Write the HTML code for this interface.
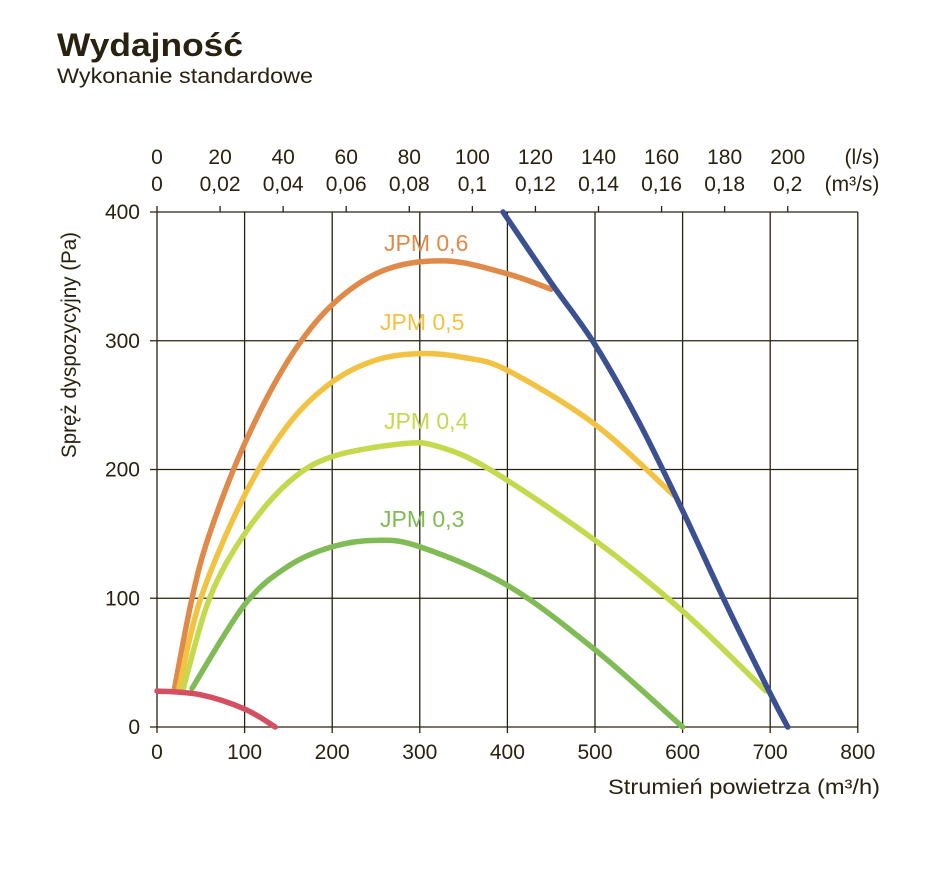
<!DOCTYPE html>
<html><head><meta charset="utf-8"><style>
body{margin:0;background:#fff;}
svg text{font-family:"Liberation Sans",sans-serif;fill:#2a2210;}
</style></head><body>
<svg id="s" width="928" height="866" xmlns="http://www.w3.org/2000/svg">
<text x="57" y="56" font-size="32" font-weight="bold" textLength="186" lengthAdjust="spacingAndGlyphs">Wydajność</text>
<text x="57" y="83" font-size="21" textLength="256" lengthAdjust="spacingAndGlyphs">Wykonanie standardowe</text>
<g id="grid" stroke="#2a2210" stroke-width="1.3"></g>
<g id="lbl" font-size="21"></g>
<text x="880" y="794" font-size="21" text-anchor="end" textLength="272" lengthAdjust="spacingAndGlyphs">Strumień powietrza (m³/h)</text>
<text transform="translate(76,345) rotate(-90)" font-size="21" text-anchor="middle" textLength="226" lengthAdjust="spacingAndGlyphs">Spręż dyspozycyjny (Pa)</text>
<g id="curves" fill="none" stroke-width="5.5" stroke-linecap="round"></g>
<text x="384" y="251" font-size="23" style="fill:#e08a4a">JPM 0,6</text>
<text x="380" y="330" font-size="23" style="fill:#f2c242">JPM 0,5</text>
<text x="384" y="429" font-size="23" style="fill:#c4d94e">JPM 0,4</text>
<text x="380" y="527" font-size="23" style="fill:#80bb55">JPM 0,3</text>
</svg>
<script>
var X=v=>157+v*0.876, Y=p=>727-p*1.2875;
var g=document.getElementById('grid'),l=document.getElementById('lbl'),c=document.getElementById('curves');
var ns='http://www.w3.org/2000/svg';
function ln(x1,y1,x2,y2){var e=document.createElementNS(ns,'line');e.setAttribute('x1',x1);e.setAttribute('y1',y1);e.setAttribute('x2',x2);e.setAttribute('y2',y2);g.appendChild(e);}
function tx(x,y,s,a){var e=document.createElementNS(ns,'text');e.setAttribute('x',x);e.setAttribute('y',y);e.setAttribute('text-anchor',a||'middle');e.textContent=s;l.appendChild(e);}
for(var v=0;v<=800;v+=100){ln(X(v),212,X(v),733);tx(X(v),759,String(v));}
for(var p=0;p<=400;p+=100){ln(150,Y(p),X(800),Y(p));tx(140,Y(p)+7,String(p),'end');}
for(var i=0;i<=10;i++){var x=X(i*72);ln(x,212,x,206);tx(x,164,String(i*20));tx(x,191,i==0?'0':(i*0.02).toFixed(2).replace(/0$/,'').replace('.',','));}
tx(862,164,'(l/s)');tx(852,191,'(m³/s)');
function curve(pts,col){var P=pts.map(q=>[X(q[0]),Y(q[1])]);var d='M'+P[0];for(var i=0;i<P.length-1;i++){var p0=P[i-1]||P[i],p1=P[i],p2=P[i+1],p3=P[i+2]||p2;d+='C'+(p1[0]+(p2[0]-p0[0])/6)+','+(p1[1]+(p2[1]-p0[1])/6)+' '+(p2[0]-(p3[0]-p1[0])/6)+','+(p2[1]-(p3[1]-p1[1])/6)+' '+p2;}var e=document.createElementNS(ns,'path');e.setAttribute('d',d);e.setAttribute('stroke',col);c.appendChild(e);}
curve([[20,30],[40,100],[60,150],[100,220],[150,285],[200,328],[260,355],[330,362],[400,352],[450,340]],'#e08a4a');
curve([[25,30],[50,100],[100,180],[150,235],[200,268],[250,285],[300,290],[350,287],[400,277],[500,235],[590,180]],'#f2c242');
curve([[30,30],[60,100],[100,150],[150,190],[200,210],[280,220],[320,218],[380,200],[500,145],[600,90],[695,28]],'#c4d94e');
curve([[40,30],[100,95],[150,125],[200,140],[250,145],[300,140],[400,110],[500,60],[600,0]],'#80bb55');
curve([[395,400],[450,345],[500,297],[550,237],[600,168],[650,95],[700,26],[720,0]],'#3a5090');
curve([[0,28],[50,25],[100,14],[135,0]],'#d45060');
</script>
</body></html>
